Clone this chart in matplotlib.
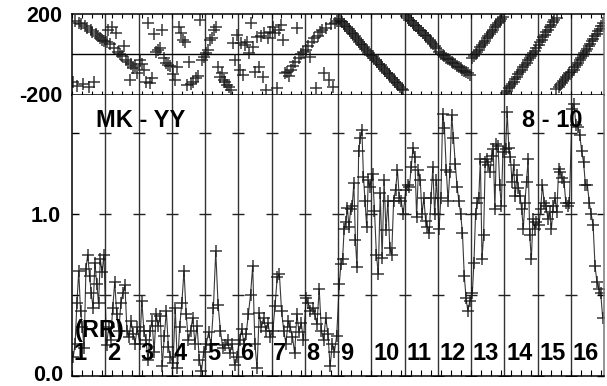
import numpy as np
import matplotlib
matplotlib.use('Agg')
import matplotlib.pyplot as plt
from matplotlib.ticker import MultipleLocator, NullFormatter

plt.rcParams['font.family'] = ['Liberation Sans', 'DejaVu Sans']
plt.rcParams['font.weight'] = 'bold'

# scan labels along the bottom
scan_labels = ['1', '2', '3', '4', '5', '6', '7', '8',
               '9', '10', '11', '12', '13', '14', '15', '16']

# amplitude per scan (time order)
amp_01 = [0.12, 0.20, 0.45, 0.65, 0.40, 0.30, 0.17, 0.66, 0.75, 0.62, 0.51, 0.42, 0.70, 0.57, 0.45, 0.72, 0.64, 0.75]
amp_02 = [0.19, 0.30, 0.22, 0.42, 0.58, 0.38, 0.28, 0.45, 0.51, 0.56, 0.28, 0.24, 0.34, 0.26, 0.20, 0.30]
amp_03 = [0.20, 0.46, 0.28, 0.22, 0.10, 0.28, 0.34, 0.15, 0.38, 0.31, 0.37, 0.06, 0.25, 0.40, 0.18, 0.12]
amp_04 = [0.08, 0.42, 0.05, 0.30, 0.45, 0.65, 0.38, 0.22, 0.28, 0.36, 0.20, 0.31, 0.10, 0.03, 0.15]
amp_05 = [0.20, 0.27, 0.19, 0.42, 0.77, 0.44, 0.28, 0.17, 0.19, 0.22, 0.14, 0.20, 0.07, 0.12]
amp_06 = [0.22, 0.29, 0.20, 0.26, 0.38, 0.50, 0.68, 0.20, 0.05, 0.39, 0.30, 0.36, 0.28, 0.33, 0.24]
amp_07 = [0.28, 0.43, 0.61, 0.63, 0.40, 0.28, 0.20, 0.34, 0.30, 0.24, 0.14, 0.38, 0.27, 0.33, 0.22]
amp_08 = [0.48, 0.45, 0.40, 0.42, 0.38, 0.32, 0.54, 0.28, 0.22, 0.36, 0.26, 0.06, 0.20, 0.15, 0.25]
amp_09 = [0.57, 0.69, 0.72, 0.91, 0.95, 1.04, 0.92, 1.03, 1.05, 1.19, 0.84, 0.67, 1.39, 1.47, 1.52, 1.23, 1.08, 0.92, 1.21, 1.17]
amp_10 = [1.25, 1.02, 0.75, 0.63, 1.13, 0.73, 1.21, 0.90, 1.08, 0.79, 0.75, 1.08, 1.15, 1.27, 1.10, 1.08, 1.00]
amp_11 = [1.15, 1.18, 1.17, 1.29, 1.41, 1.35, 0.98, 1.27, 1.21, 1.00, 1.10, 0.96, 0.92, 0.88, 1.10, 1.29, 1.00, 1.21]
amp_12 = [0.91, 1.10, 1.62, 1.53, 1.27, 1.08, 1.26, 1.61, 1.47, 1.31, 1.17, 1.08, 1.00, 0.88, 0.62, 0.48, 0.40, 0.46]
amp_13 = [0.51, 0.70, 1.00, 1.07, 1.10, 1.34, 0.72, 0.87, 1.32, 1.34, 1.30, 1.26, 1.36, 1.40, 1.03, 1.43, 1.42, 1.18, 1.05, 1.38]
amp_14 = [1.40, 1.63, 1.41, 1.35, 1.20, 1.30, 1.11, 1.24, 1.16, 1.11, 1.03, 0.91, 1.07, 1.20, 1.34, 0.87, 0.72, 0.97, 0.91, 0.95]
amp_15 = [0.93, 1.03, 1.18, 1.07, 1.05, 0.97, 1.01, 0.91, 1.05, 1.10, 1.01, 1.28, 1.26, 1.22, 1.20, 1.07, 1.05, 1.07]
amp_16 = [1.65, 1.68, 1.55, 1.54, 1.49, 1.39, 1.32, 1.18, 1.18, 1.07, 1.00, 0.93, 0.68, 0.58, 0.54, 0.51, 0.36]

# phase per scan (degrees)
ph_01 = [-140, 165, -160, 155, 150, -150, 140, 130, -165, 120, 110, -140, 100, 90, 80, 70, 65]
ph_02 = [60, 120, 50, 135, 30, 105, 10, 0, -10, 40, -30, -40, -130, -50, -70, -60, -95]
ph_03 = [-30, -50, -80, -140, 155, -145, -120, 100, 10, 20, 30, 120, -20, -45, -55, -60]
ph_04 = [-100, -130, -65, 135, 105, 70, 60, -155, -40, -150, -140, -120, -110, 170, -30, -15]
ph_05 = [5, 20, 70, 80, 120, 135, -65, -115, -95, -130, -140, -155, -165, -180, 55, -30, 95]
ph_06 = [-80, 55, -105, 45, 60, 5, 155, 35, -90, 85, -65, 90, -115, 105, -180, 80, 110]
ph_07 = [135, 105, -170, 120, 145, 70, -95, -90, -110, -80, -60, -40, 130, -20, 0, 10]
ph_08 = [20, 40, -15, 60, 80, -170, 90, 110, 120, -95, 130, -130, 150, -165, 155, 165]
ph_09 = [175, 165, 160, 150, 140, 135, 125, 115, 105, 100, 90, 80, 70, 60, 50, 45, 35, 25, 15, 5, -5]
ph_10 = [-10, -20, -30, -40, -50, -55, -65, -75, -85, -95, -100, -110, -120, -130, -140, -145, -155, -165, -175, -180]
ph_11 = [190, 180, 170, 165, 155, 145, 140, 130, 120, 115, 105, 95, 90, 80, 70, 60, 50, 40, 30]
ph_12 = [10, 0, -5, -10, -20, -25, -30, -40, -45, -50, -60, -65, -70, -80, -85, -90, -95, -105]
ph_13 = [-20, -10, 0, 10, 20, 35, 45, 55, 65, 80, 90, 100, 110, 120, 135, 145, 155, 165, 175, 185]
ph_14 = [-195, -185, -170, -160, -150, -140, -125, -115, -100, -90, -80, -65, -55, -45, -30, -20, -10, 5, 15, 30]
ph_15 = [45, 60, 70, 85, 95, 110, 120, 135, 145, 160, 170, -175, 180, -165, -155, -145, -135, -125, -115, -105, -95]
ph_16 = [-90, -80, -65, -55, -45, -30, -20, -10, 5, 15, 25, 40, 50, 65, 75, 90, 100, 115, 125, 140, 155]

amp_scans = [amp_01, amp_02, amp_03, amp_04, amp_05, amp_06, amp_07, amp_08,
             amp_09, amp_10, amp_11, amp_12, amp_13, amp_14, amp_15, amp_16]
ph_scans = [ph_01, ph_02, ph_03, ph_04, ph_05, ph_06, ph_07, ph_08,
            ph_09, ph_10, ph_11, ph_12, ph_13, ph_14, ph_15, ph_16]

W, H = 607, 386
fig = plt.figure(figsize=(W / 100, H / 100), dpi=100)
ax_ph = fig.add_axes([72 / W, 1 - 95 / H, 532 / W, 81 / H])
ax_am = fig.add_axes([72 / W, 1 - 376 / H, 532 / W, 281 / H])

nscan = len(scan_labels)
mk = dict(marker='+', ms=9, mew=1.1, color='#151515', alpha=0.85)

# phase: markers only
for i, p in enumerate(ph_scans):
    t = np.linspace(i + 0.04, i + 0.96, len(p))
    ax_ph.plot(t, p, ls='none', **mk)

# amplitude: markers joined by a thin line
t_all, a_all = [], []
for i, a in enumerate(amp_scans):
    t_all.extend(np.linspace(i + 0.04, i + 0.96, len(a)))
    a_all.extend(a)
ax_am.plot(t_all, a_all, ls='-', lw=0.8, **mk)

for ax in (ax_ph, ax_am):
    ax.set_xlim(0, nscan)
    for k in range(1, nscan):
        ax.axvline(k, color='#333333', lw=1.0, zorder=1)
    ax.xaxis.set_major_locator(MultipleLocator(0.3))
    ax.xaxis.set_major_formatter(NullFormatter())
    for s in ax.spines.values():
        s.set_linewidth(1.1)
    ax.spines['right'].set_color('#777777')

# top panel
ax_ph.set_ylim(-205, 200)
ax_ph.axhline(0, color='black', lw=1.0, zorder=1)
ax_ph.set_yticks([-200, 200])
ax_ph.set_yticklabels(['-200', '200'])
ax_ph.tick_params(axis='x', direction='in', length=3, width=0.8, top=True, bottom=True)
ax_ph.tick_params(axis='y', direction='in', length=0, pad=7, labelsize=15.5)

# bottom panel
ax_am.set_ylim(0, 1.735)
ax_am.set_yticks([0.0, 0.5, 1.0, 1.5])
ax_am.set_yticklabels(['', '', '1.0', ''])
ax_am.tick_params(axis='x', direction='in', length=4, width=0.8, top=False, bottom=True)
ax_am.tick_params(axis='y', direction='in', length=5, width=1.0, pad=8,
                  labelsize=15.5, left=True, right=True)
ax_am.spines['top'].set_visible(False)
# 0.0 label sits right on the bottom edge, place it by its baseline
ax_am.annotate('0.0', xy=(0, 0), xytext=(-6.2, -3.6), textcoords='offset points',
               ha='right', va='baseline', fontsize=15.5, fontweight='bold',
               annotation_clip=False)

# short ticks crossing each scan divider
for k in range(1, nscan):
    ax_am.plot([k] * 4, [0.0, 0.5, 1.0, 1.5], ls='none', marker='_', ms=8,
               mew=1.0, color='#222222', zorder=2)

txt = dict(fontsize=17, fontweight='bold', color='black', zorder=5)
ax_am.text(0.72, 1.58, 'MK - YY', ha='left', va='center', **txt)
ax_am.text(13.53, 1.58, '8 - 10', ha='left', va='center', **txt)
ax_am.text(0.08, 0.28, '(RR)', ha='left', va='center', **txt)
for i, lab in enumerate(scan_labels):
    ax_am.text(i + 0.06, 0.14, lab, ha='left', va='center', **txt)

fig.savefig('out.png', dpi=100)
